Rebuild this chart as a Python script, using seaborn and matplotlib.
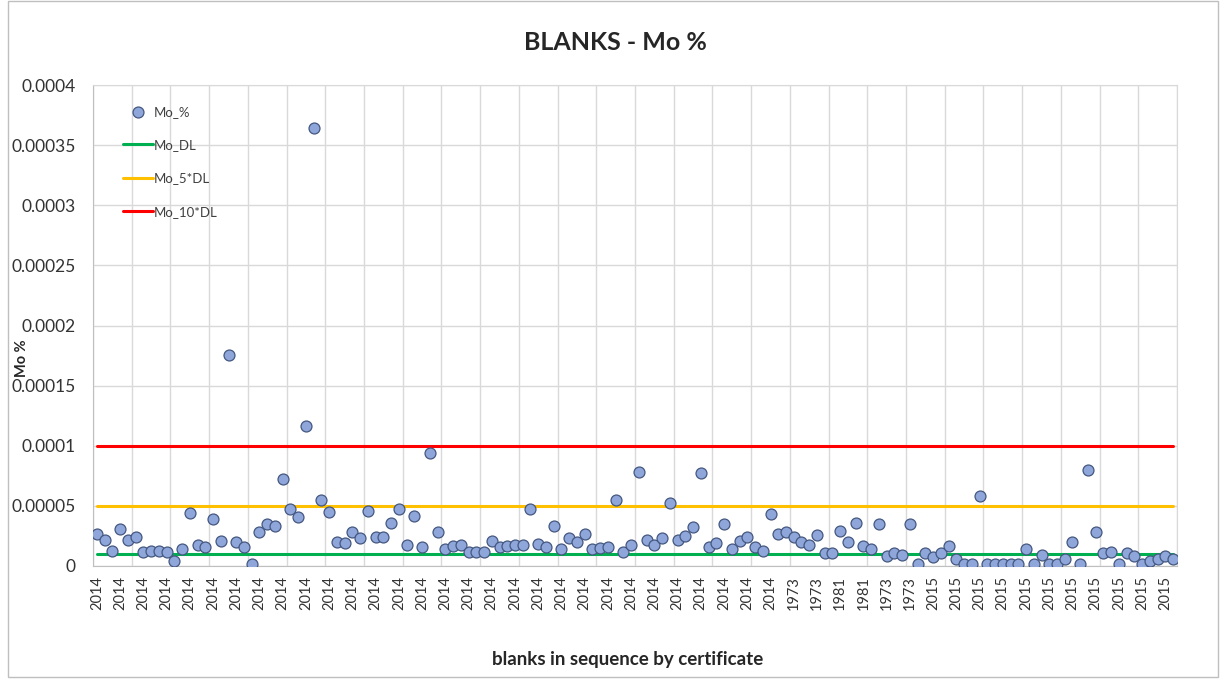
import numpy as np
import pandas as pd
import matplotlib
matplotlib.use('Agg')
import matplotlib.pyplot as plt
from matplotlib.patches import Rectangle
import seaborn as sns

# Mo % of each blank, in units of 1e-5
mo_pct_e5 = [2.7, 2.2, 1.25, 3.1, 2.2, 2.4, 1.15, 1.25, 1.25, 1.15,
             0.4, 1.4, 4.4, 1.75, 1.55, 3.9, 2.05, 17.55, 2.0, 1.55,
             0.2, 2.85, 3.5, 3.35, 7.2, 4.75, 4.05, 11.65, 36.4, 5.45,
             4.45, 2.0, 1.9, 2.8, 2.3, 4.55, 2.45, 2.45, 3.6, 4.75,
             1.75, 4.15, 1.6, 9.4, 2.8, 1.4, 1.65, 1.75, 1.15, 1.2,
             1.15, 2.05, 1.6, 1.65, 1.75, 1.75, 4.7, 1.85, 1.6, 3.35,
             1.4, 2.3, 2.0, 2.7, 1.4, 1.5, 1.6, 5.5, 1.2, 1.75,
             7.85, 2.2, 1.75, 2.35, 5.25, 2.2, 2.5, 3.25, 7.7, 1.6,
             1.9, 3.5, 1.4, 2.05, 2.45, 1.55, 1.25, 4.3, 2.7, 2.8,
             2.45, 2.0, 1.75, 2.55, 1.05, 1.05, 2.9, 2.0, 3.6, 1.65,
             1.4, 3.5, 0.85, 1.05, 0.9, 3.5, 0.2, 1.05, 0.75, 1.1,
             1.65, 0.6, 0.2, 0.2, 5.8, 0.2, 0.2, 0.2, 0.2, 0.2,
             1.4, 0.2, 0.95, 0.2, 0.2, 0.6, 2.0, 0.2, 7.95, 2.85,
             1.05, 1.2, 0.2, 1.05, 0.85, 0.2, 0.4, 0.6, 0.85, 0.55]

# certificate year shown on every third blank
tick_years = (['2014'] * 30 + ['1973', '1973', '1981', '1981', '1973', '1973']
              + ['2015'] * 11)

y_tick_labels = ['0', '0.00005', '0.0001', '0.00015', '0.0002',
                 '0.00025', '0.0003', '0.00035', '0.0004']

mo_dl = 0.00001
mo_5dl = 0.00005
mo_10dl = 0.0001

mo_pct = np.array(mo_pct_e5) * 1e-5
n = len(mo_pct)
df = pd.DataFrame({'blank': np.arange(n), 'Mo_%': mo_pct})
df['Mo_DL'] = mo_dl
df['Mo_5*DL'] = mo_5dl
df['Mo_10*DL'] = mo_10dl

sns.set_style("white")
plt.rcParams['font.family'] = ['Lato', 'DejaVu Sans']

fig = plt.figure(figsize=(12.22, 6.79), dpi=100)
ax = fig.add_axes([93/1222, 1-566/679, 1084/1222, 481/679])

sns.lineplot(data=df, x='blank', y='Mo_DL', color='#00B050', lw=2.2, label='Mo_DL', ax=ax, zorder=2)
sns.lineplot(data=df, x='blank', y='Mo_5*DL', color='#FFC000', lw=2.2, label='Mo_5*DL', ax=ax, zorder=2)
sns.lineplot(data=df, x='blank', y='Mo_10*DL', color='#FF0000', lw=2.2, label='Mo_10*DL', ax=ax, zorder=2)
sns.scatterplot(data=df, x='blank', y='Mo_%', color='#8EA6DA', edgecolor='#44577F',
                linewidth=0.9, s=62, label='Mo_%', ax=ax, zorder=3)

ax.set_xlim(-0.5, n - 0.5)
ax.set_ylim(0, 0.0004)
ax.set_yticks(np.arange(len(y_tick_labels)) * 0.00005)
ax.set_yticklabels(y_tick_labels, fontsize=12.5)
ax.set_xticks(np.arange(0, n, 3))
ax.set_xticklabels(tick_years, rotation=90, fontsize=10.5)
ax.set_xticks(np.arange(-0.5, n, 5), minor=True)
ax.tick_params(axis='both', which='both', length=0, colors='#333333')
ax.tick_params(axis='x', pad=7)
ax.tick_params(axis='y', pad=12.5)
ax.grid(axis='y', which='major', color='#D9D9D9', lw=1)
ax.grid(axis='x', which='minor', color='#D9D9D9', lw=1)
ax.grid(axis='x', which='major', visible=False)
for sp in ax.spines.values():
    sp.set_color('#D9D9D9')
ax.spines['bottom'].set_color('#BFBFBF')
ax.spines['left'].set_color('#BFBFBF')

ax.set_xlabel('blanks in sequence by certificate', fontsize=13.5, fontweight='bold', color='#262626')
ax.set_ylabel('Mo %', fontsize=10.5, fontweight='bold', color='#262626')
ax.xaxis.set_label_coords((628-93)/1084, (566-651)/481)
ax.yaxis.set_label_coords((29-93)/1084, (566-358)/481)

fig.text(615/1222, 1-42/679, 'BLANKS - Mo %', ha='center', va='center',
         fontsize=18, fontweight='bold', color='#262626')

handles, labels = ax.get_legend_handles_labels()
order = [labels.index(l) for l in ['Mo_%', 'Mo_DL', 'Mo_5*DL', 'Mo_10*DL']]
ax.legend([handles[i] for i in order], [labels[i] for i in order],
          loc='upper left', bbox_to_anchor=(0.017, 0.982), frameon=False,
          fontsize=9.5, labelspacing=1.62, handlelength=2.25, handletextpad=0.05,
          labelcolor='#404040')

fig.patches.append(Rectangle((8/1222, 2/679), 1210/1222, 676/679, transform=fig.transFigure,
                             fill=False, edgecolor='#BFBFBF', lw=1))

fig.savefig('out.png', dpi=100)
